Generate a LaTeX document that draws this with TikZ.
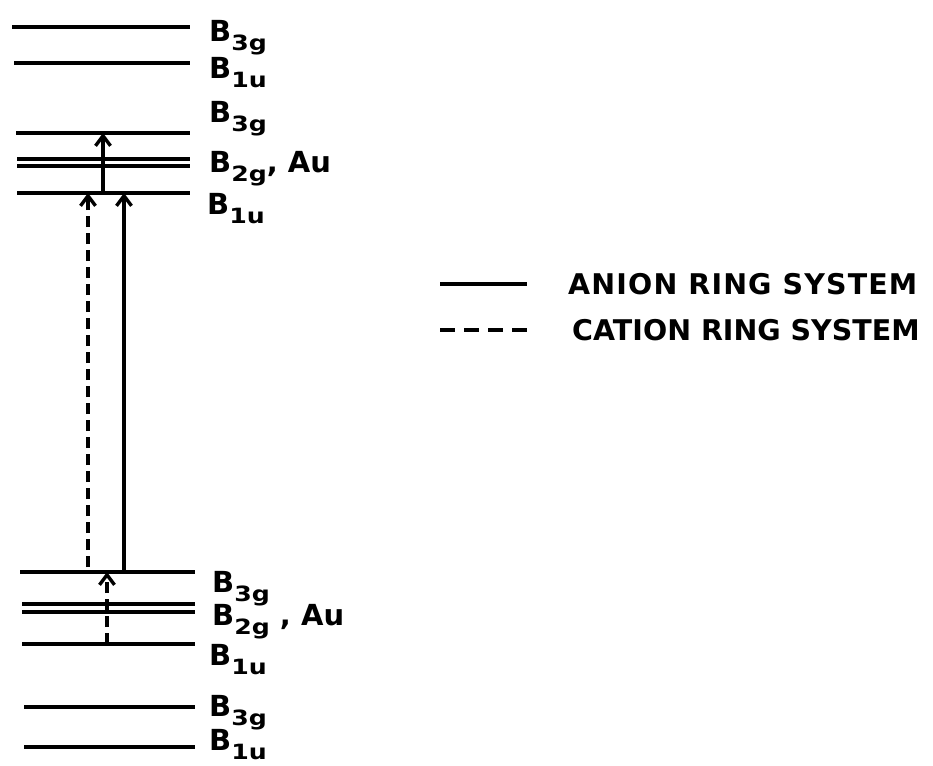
\documentclass[tikz,border=0pt]{standalone}
\usepackage{fontspec}
\usepackage{graphicx}
\setmainfont{DejaVu Sans}
\usetikzlibrary{arrows.meta}
\newcommand\lvsub[1]{\raisebox{-9pt}{\scalebox{1.2}[1]{\fontsize{21}{21}\selectfont\bfseries #1}}}
\begin{document}
\begin{tikzpicture}[x=1pt,y=-1pt,
  level/.style={line width=4pt},
  lab/.style={anchor=base west, inner sep=0pt, font=\fontsize{29}{29}\selectfont\bfseries},
  legtext/.style={anchor=west, inner sep=0pt, font=\fontsize{28.5}{28.5}\selectfont\bfseries},
  trans/.style={line width=3.4pt, -{Straight Barb[length=10pt,width=15pt,line width=3.4pt]}},
  ctrans/.style={trans, dash pattern=on 11pt off 6pt},
  legline/.style={line width=3.6pt}]
\useasboundingbox (0,0) rectangle (933,765);
% top levels
\coordinate (t1l) at (12,27);  \coordinate (t1r) at (190,27);
\coordinate (t2l) at (14,63);  \coordinate (t2r) at (190,63);
\coordinate (t3l) at (16,133); \coordinate (t3r) at (190,133);
\coordinate (t4l) at (17,159); \coordinate (t4r) at (190,159);
\coordinate (t4bl) at (17,166); \coordinate (t4br) at (190,166);
\coordinate (t5l) at (17,193); \coordinate (t5r) at (190,193);
% bottom levels
\coordinate (b5l) at (20,572); \coordinate (b5r) at (195,572);
\coordinate (b4l) at (22,604); \coordinate (b4r) at (195,604);
\coordinate (b4bl) at (22,612); \coordinate (b4br) at (195,612);
\coordinate (b3l) at (22,644); \coordinate (b3r) at (195,644);
\coordinate (b2l) at (24,707); \coordinate (b2r) at (195,707);
\coordinate (b1l) at (24,747); \coordinate (b1r) at (195,747);
\foreach \n in {t1,t2,t3,t4,t4b,t5,b5,b4,b4b,b3,b2,b1}
  \draw[level] (\n l) -- (\n r);
% labels
\node[lab] (lt1) at (209,42) {B\lvsub{3g}};
\node[lab] (lt2) at (209,79) {B\lvsub{1u}};
\node[lab] (lt3) at (209,122) {B\lvsub{3g}};
\node[lab] (lt4) at (209,172) {B\lvsub{2g}, Au};
\node[lab] (lt5) at (207,214) {B\lvsub{1u}};
\node[lab] (lb5) at (212,592) {B\lvsub{3g}};
\node[lab] (lb4) at (212,625) {B\lvsub{2g} , Au};
\node[lab] (lb3) at (209,665) {B\lvsub{1u}};
\node[lab] (lb2) at (209,716) {B\lvsub{3g}};
\node[lab] (lb1) at (209,750) {B\lvsub{1u}};
% transitions
\coordinate (xa) at (103,0);
\coordinate (xb) at (88,0);
\coordinate (xc) at (124,0);
\coordinate (xd) at (107,0);
\draw[trans] (xa |- t5l) -- (xa |- t3l);
\draw[ctrans] (xb |- b5l) ++(0,-5) -- (xb |- t5l);
\draw[trans] (xc |- b5l) -- (xc |- t5l);
\draw[ctrans] (xd |- b3l) -- (xd |- b5l);
% legend
\coordinate (la1) at (440,284); \coordinate (la2) at (527,284);
\coordinate (lc1) at (440,330); \coordinate (lc2) at (527,330);
\draw[legline] (la1) -- (la2);
\draw[legline, dash pattern=on 15pt off 9pt] (lc1) -- (lc2);
\node[legtext, font=\fontsize{28.5}{28.5}\selectfont\bfseries\addfontfeatures{LetterSpace=4}] (anion) at (568,284) {ANION RING SYSTEM};
\node[legtext] (cation) at (572,330) {CATION RING SYSTEM};
\end{tikzpicture}
\end{document}
